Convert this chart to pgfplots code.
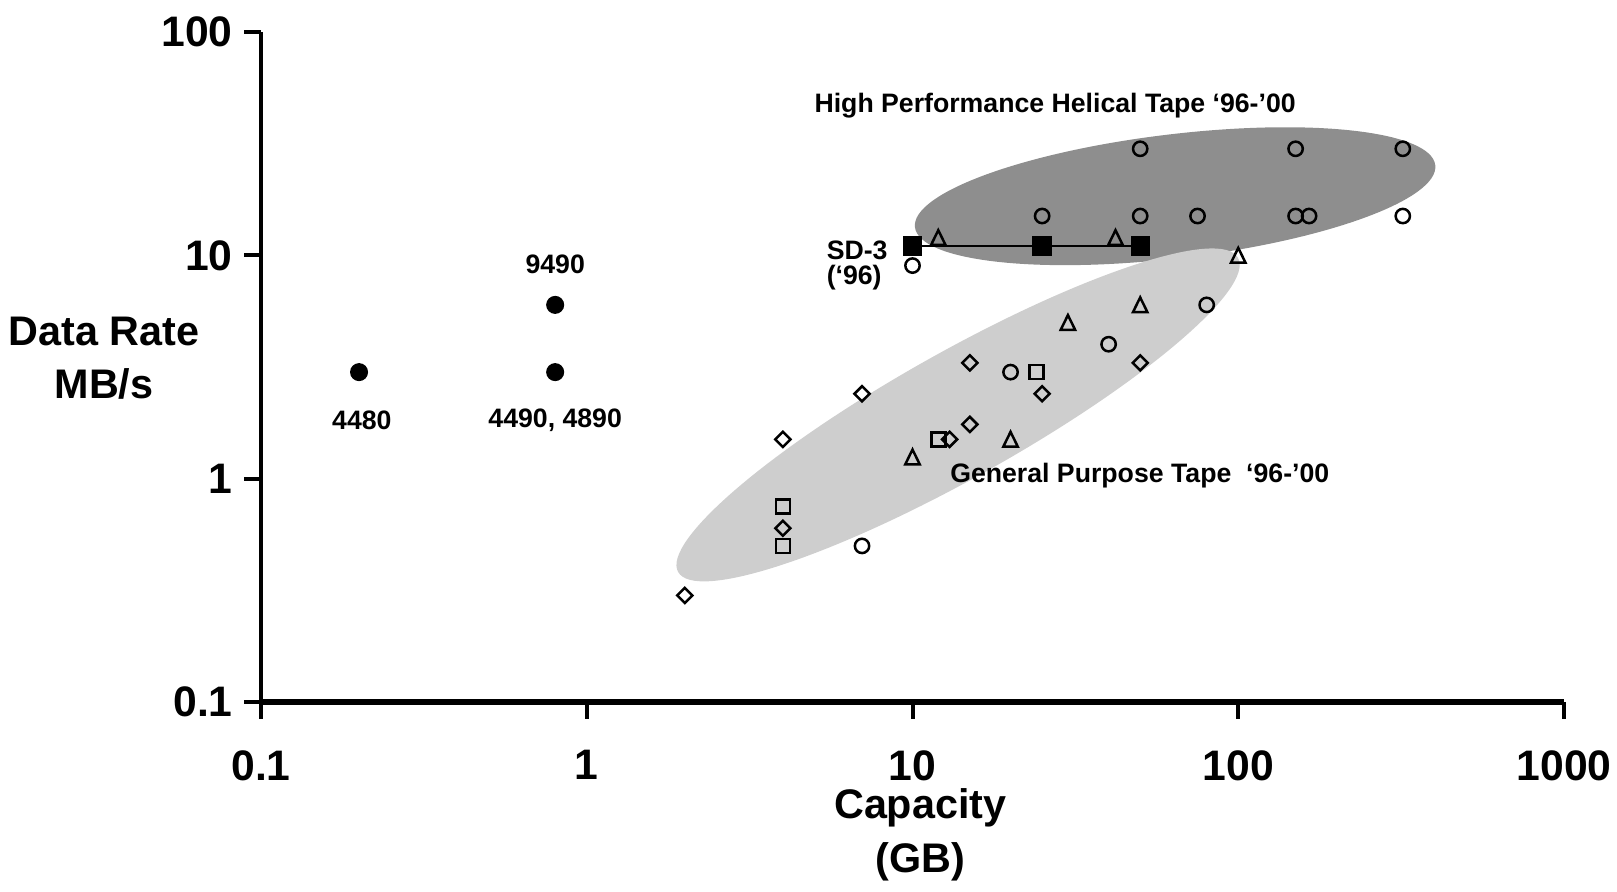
\documentclass[border=0pt]{standalone}
\usepackage{fontspec}
\setmainfont{Liberation Sans}
\usepackage{pgfplots}
\pgfplotsset{compat=1.18}
\usetikzlibrary{calc}

\definecolor{helical}{RGB}{142,142,142}
\definecolor{general}{RGB}{206,206,206}

\newcommand{\annfont}{\bfseries\fontsize{8}{9.5}\selectfont}
\newcommand{\tickfont}{\bfseries\fontsize{12.8}{15}\selectfont}
\newcommand{\labfont}{\bfseries\fontsize{12.4}{16}\selectfont}

\begin{document}
\begin{tikzpicture}
\begin{axis}[
  name=ax,
  xmode=log, ymode=log,
  scale only axis,
  width=390.9pt, height=201pt,
  xmin=0.1, xmax=1000, ymin=0.1, ymax=100,
  axis x line*=bottom, axis y line*=left,
  x axis line style={line width=1.7pt, -},
  y axis line style={line width=1.2pt, -},
  xtick={0.1,1,10,100,1000}, xticklabels={0.1,1,10,100,1000},
  ytick={0.1,1,10,100}, yticklabels={0.1,1,10,100},
  xminorticks=false, yminorticks=false,
  tick align=outside,
  major tick length=5pt,
  every tick/.style={black, line width=1.2pt},
  ticklabel style={font=\tickfont},
  xticklabel style={yshift=-6pt},
  /pgf/number format/assume math mode=true,
  clip=false,
]
% shaded regions
\fill[helical] (axis cs:64,18.4) ellipse [x radius=78.6pt, y radius=18.6pt, rotate=6.8];
\fill[general] (axis cs:13.8,1.93) ellipse [x radius=96.3pt, y radius=18.9pt, rotate=29.3];

% older drives
\addplot[only marks, mark=*, mark size=2.5pt, black] coordinates {
  (0.2,3) (0.8,6) (0.8,3)
};
% circles
\addplot[only marks, mark=o, mark size=2.15pt, mark options={line width=0.75pt, fill=none}, black] coordinates {
  (50,30) (150,30) (320,30)
  (25,15) (50,15) (75,15) (150,15) (165,15) (320,15)
  (10,9) (80,6) (40,4) (20,3) (7,0.5)
};
% triangles
\addplot[only marks, mark=triangle, mark size=2.5pt, mark options={line width=0.75pt, fill=none, yscale=1.18, yshift=-0.6pt}, black] coordinates {
  (12,12) (42,12) (100,10) (50,6) (30,5) (10,1.25) (20,1.5)
};
% diamonds
\addplot[only marks, mark=square, mark size=1.6pt, mark options={line width=0.75pt, fill=none, rotate=45}, black] coordinates {
  (2,0.3) (4,1.5) (4,0.6) (7,2.4) (15,3.3) (15,1.75) (13,1.5) (25,2.4) (50,3.3)
};
% squares
\addplot[only marks, mark=square, mark size=2.1pt, mark options={line width=0.75pt, fill=none}, black] coordinates {
  (4,0.75) (4,0.5) (12,1.5) (24,3)
};
% SD-3
\addplot[black, line width=0.8pt, mark=square*, mark size=2.5pt] coordinates {
  (10,11) (25,11) (50,11)
};

\node[font=\annfont, inner sep=0pt, anchor=west] at (axis cs:4.98,46.6) {High Performance Helical Tape ‘96-’00};
\node[font=\annfont, inner sep=0pt, anchor=west] at (axis cs:13.0,1.03) {General Purpose Tape~~‘96-’00};
\node[font=\annfont, inner sep=0pt, anchor=west] at (axis cs:5.43,10.57) {SD-3};
\node[font=\annfont, inner sep=0pt, anchor=west] at (axis cs:5.43,7.92) {(‘96)};
\node[font=\annfont, inner sep=0pt] at (axis cs:0.8,9.12) {9490};
\node[font=\annfont, inner sep=0pt] at (axis cs:0.204,1.83) {4480};
\node[font=\annfont, inner sep=0pt] at (axis cs:0.8,1.83) {4490, 4890};

\node[font=\labfont, align=center, inner sep=0pt] at (rel axis cs:-0.1205,0.513) {Data Rate\\MB/s};
\node[font=\labfont, align=center, inner sep=0pt] at (rel axis cs:0.506,-0.198) {Capacity\\(GB)};
\end{axis}
\pgfresetboundingbox
\path[use as bounding box] ($(ax.south west)+(-78.3pt,-56.7pt)$) rectangle ($(ax.north east)+(15.9pt,9.6pt)$);
\end{tikzpicture}
\end{document}
